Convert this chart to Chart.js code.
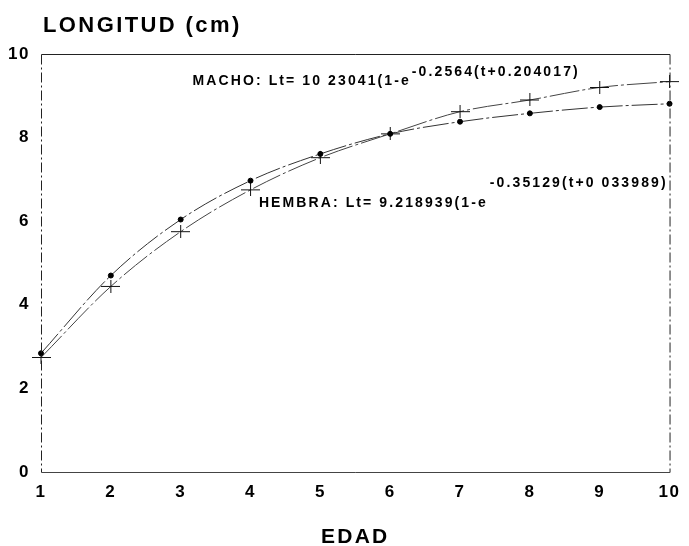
<!DOCTYPE html>
<html>
<head>
<meta charset="utf-8">
<script src="https://cdn.jsdelivr.net/npm/chart.js@4/dist/chart.umd.min.js"></script>
<style>
  html, body { margin: 0; padding: 0; background: #fff; }
  #wrap { width: 689px; height: 546px; position: relative; }
</style>
</head>
<body>
<div id="wrap"><canvas id="c" width="689" height="546"></canvas></div>
<script>
// ---- data ----
const edad = [1, 2, 3, 4, 5, 6, 7, 8, 9, 10];
const hembra = [2.84, 4.70, 6.04, 6.97, 7.61, 8.09, 8.38, 8.58, 8.73, 8.81];
const macho  = [2.74, 4.44, 5.75, 6.75, 7.52, 8.09, 8.62, 8.90, 9.20, 9.34];
const yTicks = [0, 2, 4, 6, 8, 10];
const titleY = 'LONGITUD (cm)';
const titleX = 'EDAD';
const machoEq = ['MACHO: Lt= 10 23041(1-e', '-0.2564(t+0.204017)'];
const hembraEq = ['HEMBRA: Lt= 9.218939(1-e', '-0.35129(t+0 033989)'];

// asymmetric cross marker (wider than tall)
function makeCross() {
  const cv = document.createElement('canvas');
  cv.width = 19; cv.height = 13;
  const g = cv.getContext('2d');
  g.strokeStyle = '#111'; g.lineWidth = 1;
  g.beginPath();
  g.moveTo(0, 6.5); g.lineTo(19, 6.5);
  g.moveTo(9.5, 0); g.lineTo(9.5, 13);
  g.stroke();
  return cv;
}
const crossImg = makeCross();

const textPlugin = {
  id: 'texts',
  beforeDraw(chart) {
    chart.ctx.letterSpacing = '1.5px';
  },
  afterDraw(chart) {
    const ctx = chart.ctx;
    const a = chart.chartArea;
    const xs = chart.scales.x, ys = chart.scales.y;
    ctx.save();
    // frame
    ctx.strokeStyle = '#222';
    ctx.lineWidth = 1;
    ctx.beginPath();
    ctx.moveTo(a.left + 0.5, a.top + 0.5); ctx.lineTo(a.right + 0.5, a.top + 0.5);
    ctx.stroke();
    ctx.setLineDash([10, 3, 2, 3]);
    ctx.beginPath();
    ctx.moveTo(a.right + 0.5, a.top + 0.5); ctx.lineTo(a.right + 0.5, a.bottom + 0.5);
    ctx.moveTo(a.left + 0.5, a.top + 0.5); ctx.lineTo(a.left + 0.5, a.bottom + 0.5);
    ctx.stroke();
    ctx.setLineDash([]);
    ctx.strokeStyle = '#444';
    ctx.beginPath();
    ctx.moveTo(a.left + 0.5, a.bottom + 0.5); ctx.lineTo(a.right + 0.5, a.bottom + 0.5);
    ctx.stroke();

    ctx.fillStyle = '#000';
    // axis titles
    ctx.letterSpacing = '2.4px';
    ctx.font = 'bold 22px "Liberation Sans", Arial, sans-serif';
    ctx.textBaseline = 'alphabetic';
    ctx.textAlign = 'left';
    ctx.fillText(titleY, 43, 32);
    ctx.letterSpacing = '2.2px';
    ctx.font = 'bold 21px "Liberation Sans", Arial, sans-serif';
    ctx.textAlign = 'center';
    ctx.fillText(titleX, (a.left + a.right) / 2, 543);

    // equations
    ctx.letterSpacing = '2.1px';
    ctx.textAlign = 'left';
    ctx.font = 'bold 14px "Liberation Sans", Arial, sans-serif';
    let x0 = xs.getPixelForValue(3.17), y0 = ys.getPixelForValue(9.27);
    ctx.fillText(machoEq[0], x0, y0);
    let w = ctx.measureText(machoEq[0]).width;
    ctx.fillText(machoEq[1], x0 + w + 1, y0 - 9);
    x0 = xs.getPixelForValue(4.12); y0 = ys.getPixelForValue(6.34);
    ctx.fillText(hembraEq[0], x0, y0);
    w = ctx.measureText(hembraEq[0]).width;
    ctx.fillText(hembraEq[1], x0 + w + 2, y0 - 20);
    ctx.restore();
  }
};

new Chart(document.getElementById('c'), {
  type: 'line',
  data: {
    labels: edad,
    datasets: [
      {
        label: 'HEMBRA',
        data: edad.map((t, i) => ({ x: t, y: hembra[i] })),
        borderColor: '#333',
        borderWidth: 1,
        borderDash: [26, 3, 3, 3],
        pointStyle: 'circle',
        pointRadius: 2.5,
        pointBackgroundColor: '#000',
        pointBorderColor: '#000',
        cubicInterpolationMode: 'monotone',
        fill: false,
        clip: false
      },
      {
        label: 'MACHO',
        data: edad.map((t, i) => ({ x: t, y: macho[i] })),
        borderColor: '#444',
        borderWidth: 1,
        borderDash: [30, 3, 3, 3],
        pointStyle: crossImg,
        pointRadius: 7,
        cubicInterpolationMode: 'monotone',
        fill: false,
        clip: false
      }
    ]
  },
  options: {
    responsive: false,
    animation: false,
    devicePixelRatio: 1,
    layout: { padding: { top: 54, right: 11, left: 0, bottom: 0 } },
    plugins: { legend: { display: false }, tooltip: { enabled: false }, title: { display: false } },
    scales: {
      x: {
        type: 'linear', min: 1, max: 10,
        grid: { display: false, drawTicks: false },
        border: { display: false },
        ticks: {
          stepSize: 1, padding: 10, color: '#000',
          font: { family: '"Liberation Sans", Arial, sans-serif', size: 17, weight: 'bold' }
        },
        afterFit(s) { s.height = 74; }
      },
      y: {
        type: 'linear', min: 0, max: 10,
        grid: { display: false, drawTicks: false },
        border: { display: false },
        afterBuildTicks(s) { s.ticks = yTicks.map(v => ({ value: v })); },
        ticks: {
          padding: 11, color: '#000',
          font: { family: '"Liberation Sans", Arial, sans-serif', size: 17, weight: 'bold' }
        },
        afterFit(s) { s.width = 41; }
      }
    }
  },
  plugins: [textPlugin]
});
</script>
</body>
</html>
